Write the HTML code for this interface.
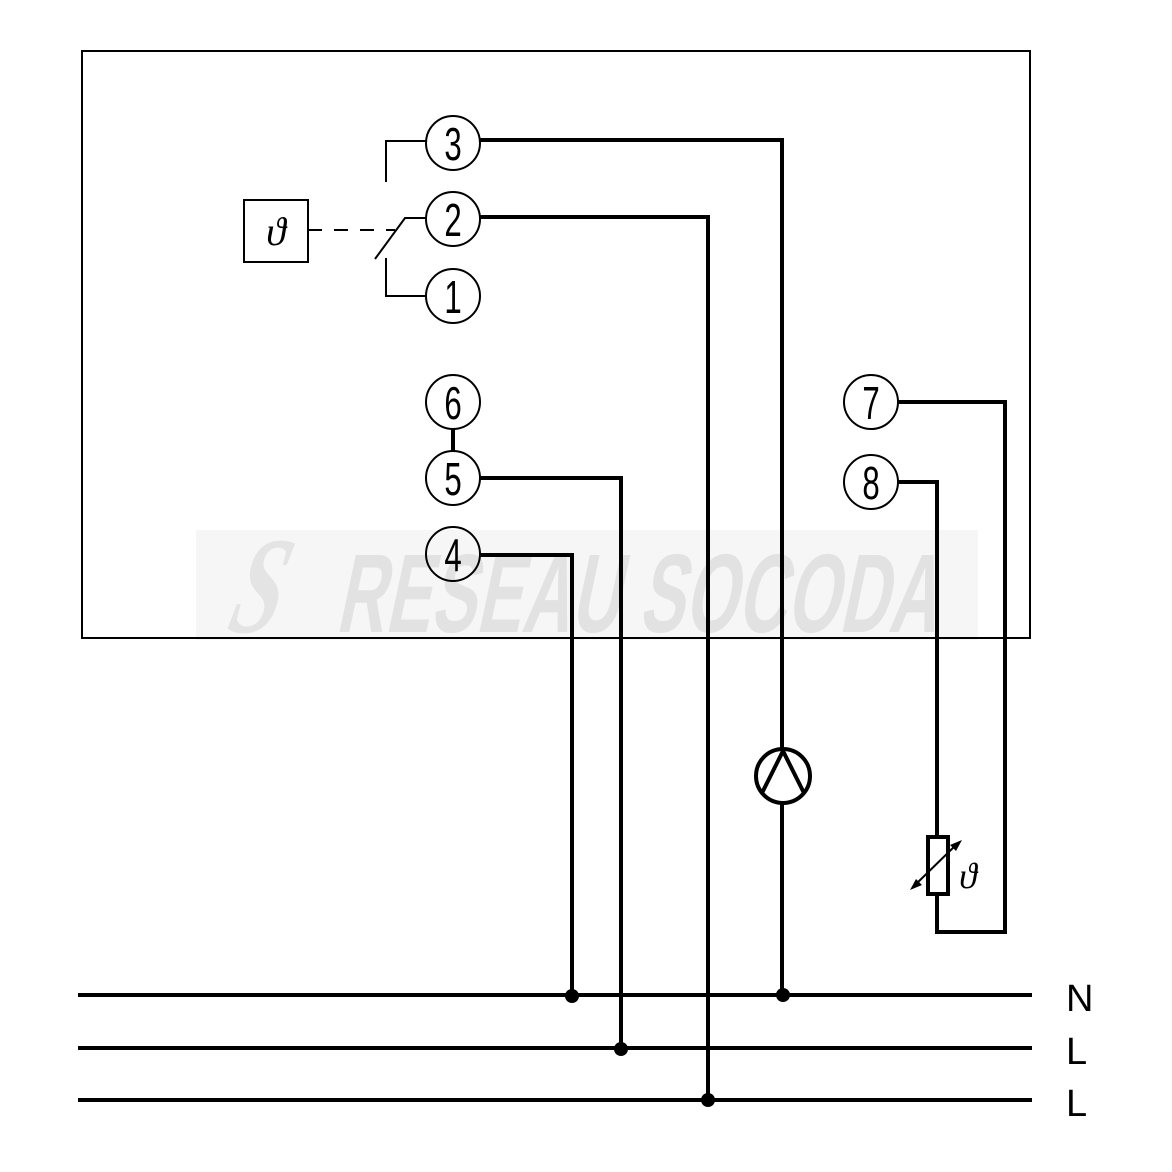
<!DOCTYPE html>
<html><head><meta charset="utf-8"><style>html,body{margin:0;padding:0;background:#fff}svg{display:block}</style></head>
<body>
<svg width="1172" height="1172" viewBox="0 0 1172 1172" xmlns="http://www.w3.org/2000/svg">
<rect x="0" y="0" width="1172" height="1172" fill="#fff"/>
<rect x="196" y="530" width="782" height="110" fill="#f6f6f6"/>
<text x="0" y="0" transform="translate(225,632) skewX(-15) scale(0.75,1.15)" font-family="Liberation Serif, serif" font-style="italic" font-weight="bold" font-size="120" fill="#e4e4e4">S</text>
<text x="0" y="0" transform="translate(335,632) skewX(-12) scale(0.6,1)" font-family="Liberation Sans, sans-serif" font-weight="bold" font-size="112" fill="#e2e2e2" letter-spacing="1">RESEAU SOCODA</text>
<rect x="82" y="51" width="948" height="587" fill="none" stroke="#000" stroke-width="2"/>
<g fill="none" stroke="#000" stroke-width="2">
 <rect x="244" y="200" width="64" height="62"/>
 <line x1="308" y1="230" x2="395" y2="230" stroke-dasharray="14,12"/>
 <polyline points="426,141 386,141 386,182"/>
 <polyline points="426,218 405,218 375,259"/>
 <polyline points="386,258 386,296 426,296"/>
 <circle cx="453" cy="143" r="27"/>
 <circle cx="453" cy="219" r="27"/>
 <circle cx="453" cy="296" r="27"/>
 <circle cx="453" cy="402" r="27"/>
 <circle cx="453" cy="478" r="27"/>
 <circle cx="453" cy="554" r="27"/>
 <circle cx="871" cy="402" r="27"/>
 <circle cx="871" cy="482" r="27"/>
</g>
<g fill="none" stroke="#000" stroke-width="4">
 <line x1="453" y1="429" x2="453" y2="451"/>
 <polyline points="480,140 782,140 782,748"/>
 <line x1="782" y1="804" x2="782" y2="995"/>
 <polyline points="480,217 708,217 708,1100"/>
 <polyline points="480,478 621,478 621,1048"/>
 <polyline points="480,555 572,555 572,995"/>
 <polyline points="898,402 1005,402 1005,932 937,932 937,894"/>
 <polyline points="937,837 937,482 898,482"/>
 <rect x="928" y="837" width="20" height="57"/>
 <circle cx="783" cy="776" r="27"/>
 <polyline points="762,793 783,751 804,793"/>
 <line x1="78" y1="995" x2="1032" y2="995"/>
 <line x1="78" y1="1048" x2="1032" y2="1048"/>
 <line x1="78" y1="1100" x2="1032" y2="1100"/>
</g>
<line x1="914" y1="886" x2="958" y2="843" stroke="#000" stroke-width="2"/>
<polygon points="962,840 950,845 956,851" fill="#000"/>
<polygon points="910,890 922,885 916,879" fill="#000"/>
<g fill="#000">
 <circle cx="572" cy="996" r="7"/>
 <circle cx="783" cy="995" r="7"/>
 <circle cx="621" cy="1049" r="7"/>
 <circle cx="708" cy="1100" r="7"/>
</g>
<g font-family="Liberation Sans, sans-serif" font-size="40" text-anchor="middle" fill="#000">
 <text transform="translate(453,160) scale(0.78,1.15)">3</text>
 <text transform="translate(453,236) scale(0.78,1.15)">2</text>
 <text transform="translate(453,313) scale(0.78,1.15)">1</text>
 <text transform="translate(453,419) scale(0.78,1.15)">6</text>
 <text transform="translate(453,495) scale(0.78,1.15)">5</text>
 <text transform="translate(453,571) scale(0.78,1.15)">4</text>
 <text transform="translate(871,419) scale(0.78,1.15)">7</text>
 <text transform="translate(871,499) scale(0.78,1.15)">8</text>
</g>
<g font-family="Liberation Serif, serif" font-style="italic" font-size="40" text-anchor="middle" fill="#000">
 <text x="276" y="245">ϑ</text>
 <text x="968" y="888" font-size="36">ϑ</text>
</g>
<g font-family="Liberation Sans, sans-serif" font-size="38" fill="#000">
 <text x="1066" y="1011">N</text>
 <text x="1066" y="1064">L</text>
 <text x="1066" y="1116">L</text>
</g>
</svg>
</body></html>
